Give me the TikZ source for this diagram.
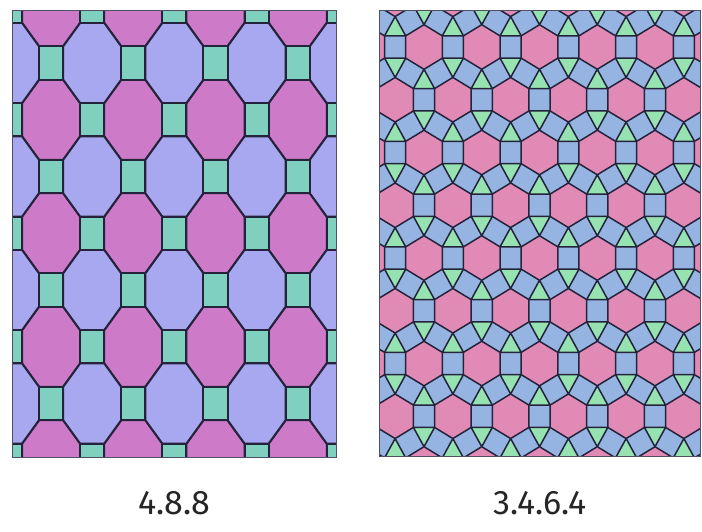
\documentclass[tikz,border=0pt]{standalone}
\usepackage{fontspec}
\setmainfont{Fira Sans}
\usetikzlibrary{positioning}

% colori delle due tassellature
\definecolor{rosaOtt}{RGB}{205,122,200}
\definecolor{lilla}{RGB}{168,168,240}
\definecolor{verdeQ}{RGB}{128,208,192}
\definecolor{rosaEsa}{RGB}{226,138,182}
\definecolor{celeste}{RGB}{150,180,226}
\definecolor{verdeT}{RGB}{150,226,176}
\definecolor{bordo}{RGB}{35,35,60}

\tikzset{
  tassello/.style={draw=bordo, line width=2pt, line join=round},
  tassellino/.style={draw=bordo, line width=1.5pt, line join=round},
  cornice/.style={draw=bordo!80, line width=1pt},
  etichetta/.style={font=\fontsize{34}{34}\selectfont, text=black!85}
}

\begin{document}
\begin{tikzpicture}[x=1pt, y=-1pt]
  \useasboundingbox (0,0) rectangle (702,531);

  % 4.8.8 : ottagoni e quadrati, passo 41.1 x 56.75
  \begin{scope}
    \clip (12,10) rectangle (336,457);
    \fill[lilla] (12,10) rectangle (336,457);
    \begin{scope}[shift={(10,6.25)}, x=41.1pt, y=-56.75pt]
      \foreach \m in {1,3,5,7}
        \foreach \n in {0,2,4,6,8}
          \filldraw[tassello, fill=rosaOtt, shift={(\m,\n)}]
            (0.2929,0.7071) -- (0.7071,0.2929) -- (0.7071,-0.2929) -- (0.2929,-0.7071)
            -- (-0.2929,-0.7071) -- (-0.7071,-0.2929) -- (-0.7071,0.2929) -- (-0.2929,0.7071) -- cycle;
      \foreach \m in {0,2,4,6,8}
        \foreach \n in {1,3,5,7}
          \filldraw[tassello, fill=lilla, shift={(\m,\n)}]
            (0.2929,0.7071) -- (0.7071,0.2929) -- (0.7071,-0.2929) -- (0.2929,-0.7071)
            -- (-0.2929,-0.7071) -- (-0.7071,-0.2929) -- (-0.7071,0.2929) -- (-0.2929,0.7071) -- cycle;
      % quadrati dove m+n e' pari
      \foreach \m in {0,...,8}
        \foreach \n in {0,...,8} {
          \pgfmathtruncatemacro{\pari}{mod(\m+\n,2)}
          \ifnum\pari=0
            \filldraw[tassello, fill=verdeQ, shift={(\m,\n)}]
              (-0.2929,-0.2929) rectangle (0.2929,0.2929);
          \fi
        }
    \end{scope}
  \end{scope}
  \draw[cornice] (12,10) rectangle (336,457);

  % 3.4.6.4 : esagoni, quadrati (sfondo) e triangoli, passo 57.75 x 52.75
  \begin{scope}
    \clip (379,10) rectangle (700,456);
    \fill[celeste] (379,10) rectangle (700,456);
    \begin{scope}[shift={(395.125,-5.75)}, x=57.75pt, y=-52.75pt]
      \foreach \r in {0,...,9}
        \foreach \i in {-1,...,6} {
          \pgfmathsetmacro{\cx}{\i+0.5*mod(\r,2)}
          \begin{scope}[shift={(\cx,\r)}]
            \filldraw[tassellino, fill=rosaEsa]
              (0,-0.42265) -- (0.31699,-0.21132) -- (0.31699,0.21132) -- (0,0.42265)
              -- (-0.31699,0.21132) -- (-0.31699,-0.21132) -- cycle;
            \filldraw[tassellino, fill=verdeT]
              (0.31699,0.21132) -- (0.68301,0.21132) -- (0.5,0.57735) -- cycle;
            \filldraw[tassellino, fill=verdeT]
              (0,0.42265) -- (0.18301,0.78868) -- (-0.18301,0.78868) -- cycle;
          \end{scope}
        }
    \end{scope}
  \end{scope}
  \draw[cornice] (379,10) rectangle (700,456);

  % nomi delle tassellature
  \node[etichetta] (nome488) at (174,503) {4.8.8};
  \node[etichetta] (nome3464) at (540,503) {3.4.6.4};
\end{tikzpicture}
\end{document}
